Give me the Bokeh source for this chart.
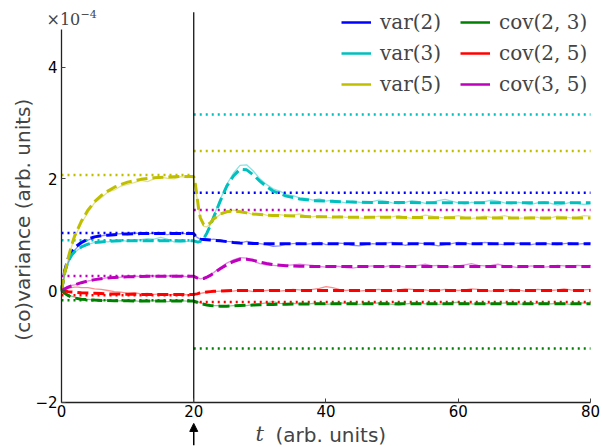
from math import pi
from bokeh.plotting import figure
from bokeh.models import (Range1d, FixedTicker, Label, Arrow, NormalHead,
                          Legend, LegendItem)
from bokeh.embed import file_html
from bokeh.resources import INLINE

# ---------------- data (values in units of 1e-4) ----------------
T_SIM = [0, 0.5, 1, 1.5, 2, 2.5, 3] + list(range(4, 21)) + \
        [20.5, 21, 21.5, 22, 22.5, 23] + list(range(24, 81))

SIM_VAR2 = [0, 0.30, 0.50, 0.63, 0.72, 0.79, 0.84, 0.90, 0.95, 0.98, 0.99, 1.01, 1.02, 1.00, 1.03, 1.02,
            1.01, 1.03, 1.02, 1.00, 1.02, 1.03, 1.01, 1.02,
            0.95, 0.92, 0.93, 0.92, 0.91, 0.92,
            0.90, 0.88, 0.87, 0.85, 0.88, 0.86, 0.84, 0.82, 0.79, 0.80, 0.83, 0.84, 0.85, 0.83, 0.84, 0.86,
            0.82, 0.83, 0.85, 0.84, 0.81, 0.80, 0.82, 0.84, 0.83, 0.85, 0.86, 0.84, 0.81, 0.83, 0.85, 0.84,
            0.82, 0.80, 0.82, 0.84, 0.86, 0.85, 0.83, 0.84, 0.86, 0.85, 0.83, 0.82, 0.84, 0.85, 0.83, 0.82,
            0.84, 0.85, 0.83, 0.82, 0.84, 0.85, 0.83, 0.84, 0.85]
SIM_VAR3 = [0, 0.30, 0.48, 0.60, 0.68, 0.73, 0.77, 0.82, 0.86, 0.88, 0.87, 0.89, 0.90, 0.88, 0.90, 0.91,
            0.93, 0.92, 0.95, 0.92, 0.87, 0.86, 0.88, 0.89,
            0.86, 0.87, 0.93, 1.04, 1.18, 1.33,
            1.63, 1.90, 2.10, 2.24, 2.25, 2.14, 2.00, 1.90, 1.82, 1.78, 1.72, 1.70, 1.66, 1.65, 1.62, 1.64,
            1.60, 1.62, 1.59, 1.57, 1.60, 1.58, 1.56, 1.59, 1.62, 1.60, 1.57, 1.55, 1.58, 1.61, 1.59, 1.56,
            1.58, 1.61, 1.63, 1.60, 1.57, 1.55, 1.58, 1.56, 1.59, 1.62, 1.60, 1.57, 1.55, 1.58, 1.56, 1.54,
            1.57, 1.59, 1.56, 1.53, 1.55, 1.58, 1.56, 1.54, 1.55]
SIM_VAR5 = [0, 0.27, 0.55, 0.78, 0.95, 1.08, 1.20, 1.40, 1.57, 1.66, 1.76, 1.80, 1.87, 1.90, 1.93, 1.97,
            1.95, 2.00, 2.03, 2.01, 2.00, 2.04, 2.02, 2.03,
            1.66, 1.28, 1.15, 1.14, 1.19, 1.27,
            1.36, 1.42, 1.44, 1.42, 1.40, 1.36, 1.38, 1.35, 1.33, 1.36, 1.34, 1.35, 1.37, 1.33, 1.32, 1.34,
            1.31, 1.30, 1.33, 1.31, 1.32, 1.30, 1.29, 1.31, 1.33, 1.30, 1.32, 1.34, 1.31, 1.29, 1.32, 1.35,
            1.33, 1.31, 1.30, 1.32, 1.34, 1.31, 1.29, 1.30, 1.33, 1.31, 1.32, 1.34, 1.31, 1.29, 1.30, 1.32,
            1.31, 1.28, 1.30, 1.33, 1.32, 1.30, 1.31, 1.34, 1.33]
SIM_COV23 = [0, -0.04, -0.08, -0.10, -0.12, -0.14, -0.15, -0.16, -0.17, -0.18, -0.17, -0.19, -0.18, -0.19,
             -0.18, -0.20, -0.19, -0.18, -0.19, -0.20, -0.19, -0.18, -0.19, -0.19,
             -0.20, -0.22, -0.24, -0.25, -0.26, -0.27,
             -0.27, -0.28, -0.27, -0.26, -0.27, -0.25, -0.24, -0.22, -0.20, -0.23, -0.24, -0.23, -0.24,
             -0.25, -0.23, -0.24, -0.25, -0.24, -0.22, -0.23, -0.24, -0.25, -0.24, -0.23, -0.22, -0.23,
             -0.25, -0.26, -0.24, -0.23, -0.22, -0.24, -0.23, -0.25, -0.24, -0.22, -0.21, -0.23, -0.24,
             -0.25, -0.24, -0.23, -0.24, -0.22, -0.23, -0.24, -0.25, -0.24, -0.23, -0.22, -0.24, -0.23,
             -0.24, -0.25, -0.23, -0.22, -0.24]
SIM_COV25 = [0, 0.02, 0.04, 0.05, 0.06, 0.06, 0.05, 0.05, 0.03, 0.02, 0.00, -0.02, -0.03, -0.05, -0.04,
             -0.06, -0.05, -0.07, -0.06, -0.08, -0.07, -0.06, -0.08, -0.07,
             -0.07, -0.05, -0.04, -0.03, -0.03, -0.02,
             -0.01, 0.00, -0.01, 0.01, 0.00, -0.02, -0.01, 0.00, 0.01, -0.01, 0.00, 0.02, 0.01, 0.00, 0.02,
             0.04, 0.07, 0.05, 0.02, 0.00, 0.01, -0.01, 0.00, 0.01, 0.02, 0.00, -0.01, 0.01, 0.03, 0.02,
             0.00, 0.01, -0.01, 0.00, 0.02, 0.01, 0.00, 0.01, 0.03, 0.02, 0.00, -0.01, 0.01, 0.00, 0.02,
             0.01, -0.01, 0.00, 0.02, 0.01, 0.00, 0.01, 0.03, 0.01, 0.00, 0.01, 0.02]
SIM_COV35 = [0, 0.04, 0.07, 0.09, 0.10, 0.12, 0.14, 0.17, 0.19, 0.21, 0.23, 0.22, 0.24, 0.25, 0.26, 0.25,
             0.27, 0.26, 0.25, 0.26, 0.27, 0.26, 0.25, 0.26,
             0.23, 0.21, 0.22, 0.25, 0.28, 0.32,
             0.41, 0.49, 0.55, 0.59, 0.58, 0.53, 0.48, 0.46, 0.45, 0.44, 0.45, 0.46, 0.47, 0.46, 0.45,
             0.43, 0.42, 0.44, 0.43, 0.41, 0.40, 0.42, 0.43, 0.44, 0.42, 0.43, 0.45, 0.44, 0.42, 0.43,
             0.45, 0.47, 0.44, 0.45, 0.43, 0.42, 0.44, 0.46, 0.48, 0.45, 0.44, 0.45, 0.47, 0.44, 0.43,
             0.41, 0.42, 0.44, 0.43, 0.42, 0.43, 0.45, 0.44, 0.43, 0.45, 0.44, 0.45]

T_TH = [0, 0.5, 1, 1.5, 2, 3, 4, 5, 6, 7, 8, 9, 10, 12, 14, 16, 18, 20,
        20.25, 20.5, 20.75, 21, 21.5, 22, 22.5, 23, 24, 25, 26, 27, 28, 29, 30, 31, 32,
        34, 36, 38, 40, 45, 50, 60, 70, 80]
TH_VAR2 = [0, 0.36, 0.57, 0.69, 0.77, 0.86, 0.92, 0.96, 0.98, 0.99, 1.0, 1.01, 1.01, 1.02, 1.02, 1.02, 1.02, 1.02,
           0.98, 0.95, 0.93, 0.92, 0.915, 0.91, 0.905, 0.90, 0.89, 0.875, 0.86, 0.85, 0.845, 0.84, 0.84, 0.835,
           0.835, 0.835, 0.835, 0.835, 0.835, 0.835, 0.835, 0.835, 0.835, 0.835]
TH_VAR3 = [0, 0.33, 0.52, 0.63, 0.70, 0.78, 0.83, 0.86, 0.87, 0.88, 0.885, 0.89, 0.89, 0.89, 0.89, 0.89, 0.89, 0.89,
           0.88, 0.87, 0.87, 0.88, 0.93, 1.03, 1.16, 1.31, 1.60, 1.87, 2.05, 2.17, 2.16, 2.07, 1.96, 1.86, 1.78,
           1.69, 1.64, 1.61, 1.60, 1.58, 1.575, 1.57, 1.57, 1.57]
TH_VAR5 = [0, 0.32, 0.58, 0.80, 0.98, 1.24, 1.44, 1.59, 1.70, 1.78, 1.85, 1.90, 1.94, 1.99, 2.02, 2.03, 2.04, 2.04,
           1.90, 1.68, 1.45, 1.30, 1.18, 1.17, 1.21, 1.28, 1.37, 1.41, 1.42, 1.41, 1.39, 1.37, 1.36, 1.35, 1.345,
           1.34, 1.33, 1.32, 1.32, 1.31, 1.31, 1.30, 1.30, 1.30]
TH_COV23 = [0, -0.05, -0.09, -0.12, -0.135, -0.155, -0.165, -0.172, -0.177, -0.18, -0.182, -0.184, -0.185, -0.19,
            -0.19, -0.19, -0.19, -0.19,
            -0.2, -0.21, -0.22, -0.23, -0.245, -0.26, -0.27, -0.275, -0.28, -0.28, -0.275, -0.27, -0.265, -0.26,
            -0.255, -0.25, -0.25, -0.245, -0.24, -0.24, -0.235, -0.235, -0.235, -0.235, -0.235, -0.235]
TH_COV25 = [0, -0.01, -0.02, -0.025, -0.03, -0.04, -0.045, -0.05, -0.055, -0.06, -0.062, -0.065, -0.067, -0.07,
            -0.07, -0.07, -0.07, -0.07,
            -0.065, -0.06, -0.05, -0.045, -0.035, -0.025, -0.02, -0.015, -0.01, -0.005, 0, 0, 0, 0, 0, 0, 0,
            0, 0, 0, 0, 0, 0, 0, 0, 0]
TH_COV35 = [0, 0.03, 0.06, 0.08, 0.10, 0.14, 0.17, 0.195, 0.21, 0.225, 0.235, 0.24, 0.245, 0.25, 0.255, 0.255,
            0.255, 0.255,
            0.24, 0.225, 0.215, 0.21, 0.215, 0.24, 0.27, 0.31, 0.39, 0.46, 0.52, 0.56, 0.56, 0.54, 0.51, 0.485,
            0.465, 0.445, 0.435, 0.43, 0.43, 0.43, 0.43, 0.43, 0.43, 0.43]

PHASES = [(0, 20), (20, 80)]
# steady-state levels, order: var2, var3, var5, cov23, cov25, cov35
LEVELS_PHASE1 = [1.03, 0.90, 2.07, -0.175, -0.085, 0.26]
LEVELS_PHASE2 = [1.75, 3.15, 2.50, -1.04, -0.205, 1.44]

NAMES = ["var(2)", "var(3)", "var(5)", "cov(2, 3)", "cov(2, 5)", "cov(3, 5)"]
COLORS = ["#0000ff", "#00bfbf", "#bfbf00", "#008000", "#ff0000", "#bf00bf"]
SIMS = [SIM_VAR2, SIM_VAR3, SIM_VAR5, SIM_COV23, SIM_COV25, SIM_COV35]
THEORY = [TH_VAR2, TH_VAR3, TH_VAR5, TH_COV23, TH_COV25, TH_COV35]

X_TICKS = [0, 20, 40, 60, 80]
Y_TICKS = [-2, 0, 2, 4]
X_BOUNDS = (0, 80)
Y_BOUNDS = (-2, 4.67)
SWITCH_T = 20
SWITCH_LINE_TOP = 4.98

# ---------------- figure ----------------
# the frame spans the whole canvas; the axes are pinned at x=0 / y=-2
p = figure(width=602, height=447,
           x_range=Range1d(-9.225, 81.815), y_range=Range1d(-2.811, 5.1925),
           output_backend="svg", toolbar_location=None, min_border=0)
p.title.visible = False
p.outline_line_color = None
p.grid.visible = False
p.background_fill_color = "white"
p.border_fill_color = "white"

for ax in (p.xaxis[0], p.yaxis[0]):
    ax.major_tick_in = 4
    ax.major_tick_out = 0
    ax.minor_tick_in = 0
    ax.minor_tick_out = 0
    ax.axis_line_width = 1.3
    ax.axis_line_color = "#222222"
    ax.major_tick_line_color = "#444444"
    ax.major_label_text_font = "DejaVu Sans"
    ax.major_label_text_font_size = "15px"
    ax.major_label_text_color = "black"
p.xaxis.ticker = FixedTicker(ticks=X_TICKS)
p.yaxis.ticker = FixedTicker(ticks=Y_TICKS)
p.yaxis.major_label_overrides = {t: (("\u2212%d" % -t) if t < 0 else str(t)) for t in Y_TICKS}
p.xaxis.fixed_location = Y_BOUNDS[0]
p.yaxis.fixed_location = X_BOUNDS[0]
p.xaxis.bounds = X_BOUNDS
p.yaxis.bounds = Y_BOUNDS
p.xaxis.major_label_standoff = 3
p.yaxis.major_label_standoff = 4

# simulation (noisy) lines
for ys, c in zip(SIMS, COLORS):
    p.line(T_SIM, ys, line_color=c, line_alpha=0.45, line_width=1.3)

# steady-state dotted lines
for lv1, lv2, c in zip(LEVELS_PHASE1, LEVELS_PHASE2, COLORS):
    for (a, b), lv in zip(PHASES, (lv1, lv2)):
        p.line([a, b], [lv, lv], line_color=c, line_width=2.5, line_dash="2 4")

# theory dashed lines
for ys, c in zip(THEORY, COLORS):
    p.line(T_TH, ys, line_color=c, line_width=3, line_dash="11 5")

# switch time marker
p.line([SWITCH_T, SWITCH_T], [Y_BOUNDS[0], SWITCH_LINE_TOP], line_color="black", line_width=1.2)

# legends (two columns)
nan = float("nan")
legend_rs = [p.line([nan], [nan], line_color=c, line_width=2.5) for c in COLORS]
for k, vx in ((0, 341), (1, 460)):
    items = [LegendItem(label=NAMES[i], renderers=[legend_rs[i]]) for i in range(3 * k, 3 * k + 3)]
    lg = Legend(items=items, location=(vx, 349), glyph_width=30, glyph_height=28, label_height=28,
                spacing=3, padding=0, margin=0, label_standoff=9,
                label_text_font="DejaVu Serif", label_text_font_size="20px",
                border_line_alpha=0, background_fill_alpha=0)
    p.add_layout(lg)

# axis labels and offset text (screen units = canvas pixels, y up)
p.add_layout(Label(x=22, y=231, x_units="screen", y_units="screen", angle=pi / 2,
                   text="(co)variance  (arb. units)", text_font="DejaVu Sans", text_font_size="20px",
                   text_align="center", text_baseline="middle"))
p.add_layout(Label(x=255, y=14, x_units="screen", y_units="screen", text="t",
                   text_font="DejaVu Serif", text_font_style="italic", text_font_size="21px",
                   text_align="left", text_baseline="middle"))
p.add_layout(Label(x=275, y=13, x_units="screen", y_units="screen", text="(arb. units)",
                   text_font="DejaVu Sans", text_font_size="20px",
                   text_align="left", text_baseline="middle"))
p.add_layout(Label(x=46, y=428, x_units="screen", y_units="screen", text="\u00d710",
                   text_font="DejaVu Serif", text_font_size="16px",
                   text_align="left", text_baseline="middle"))
p.add_layout(Label(x=80, y=434, x_units="screen", y_units="screen", text="\u22124",
                   text_font="DejaVu Serif", text_font_size="11px",
                   text_align="left", text_baseline="middle"))

# arrow marking the switch time
p.add_layout(Arrow(end=NormalHead(size=8, fill_color="black", line_color="black"),
                   x_start=SWITCH_T, y_start=-2.77, x_end=SWITCH_T, y_end=-2.38,
                   line_color="black", line_width=1.5))

open("out.html", "w").write(file_html(p, INLINE))
